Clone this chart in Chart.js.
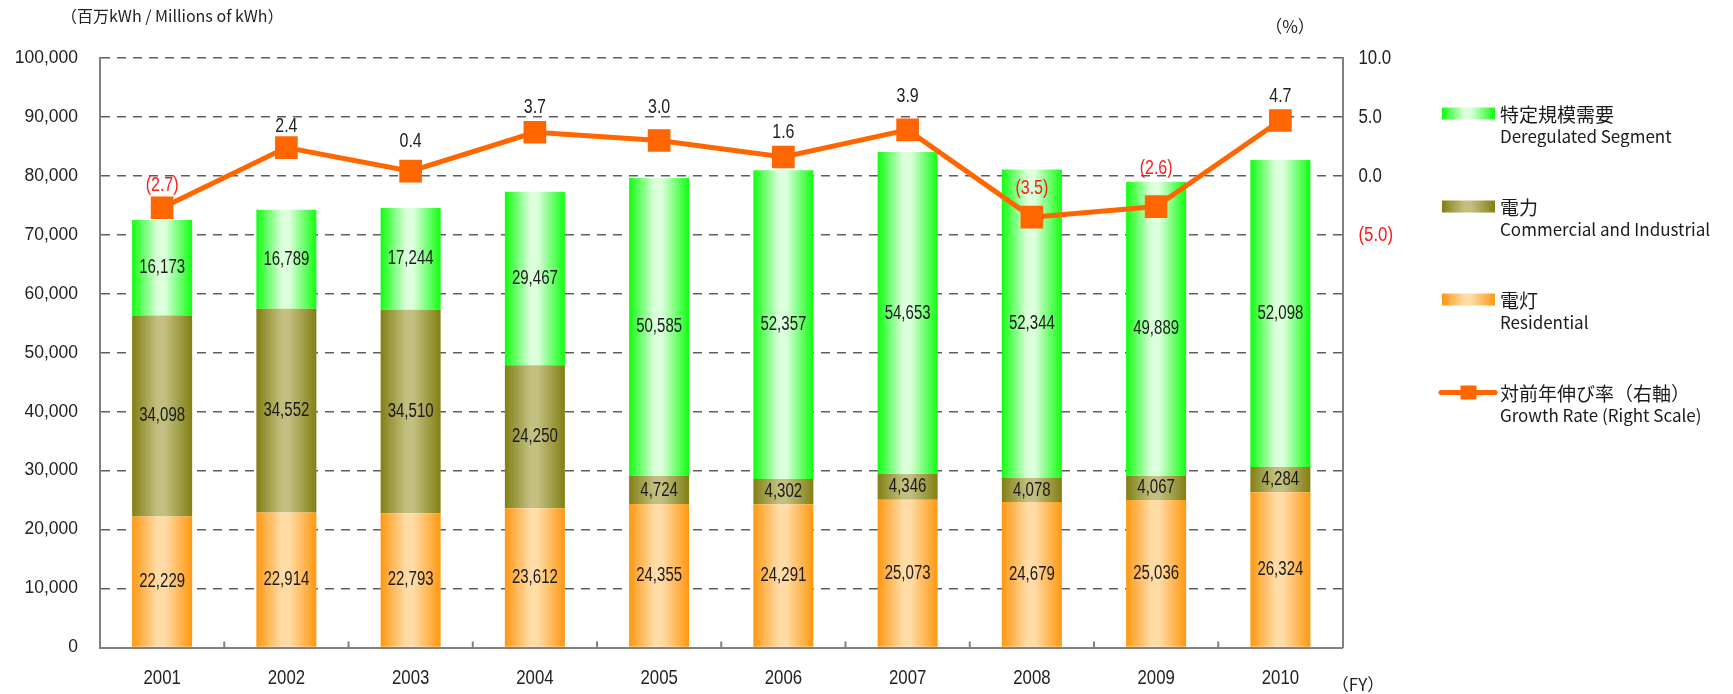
<!DOCTYPE html>
<html>
<head>
<meta charset="utf-8">
<script src="https://cdn.jsdelivr.net/npm/chart.js@4.4.0/dist/chart.umd.min.js"></script>
<style>
  html, body { margin: 0; padding: 0; background: #fff; }
  #wrap { width: 1733px; height: 694px; position: relative; }
</style>
</head>
<body>
<div id="wrap"><canvas id="myChart"></canvas></div>
<script>
  // data
  const years = ['2001', '2002', '2003', '2004', '2005', '2006', '2007', '2008', '2009', '2010'];
  const residential = [22229, 22914, 22793, 23612, 24355, 24291, 25073, 24679, 25036, 26324];
  const commercial = [34098, 34552, 34510, 24250, 4724, 4302, 4346, 4078, 4067, 4284];
  const deregulated = [16173, 16789, 17244, 29467, 50585, 52357, 54653, 52344, 49889, 52098];
  const growthRate = [-2.7, 2.4, 0.4, 3.7, 3.0, 1.6, 3.9, -3.5, -2.6, 4.7];

  const leftTicks = { min: 0, max: 100000, step: 10000 };
  const rightTicks = { min: -40, max: 10, step: 5, lowestShown: -5 };

  const nameDeregulated = ['特定規模需要', 'Deregulated Segment'];
  const nameCommercial = ['電力', 'Commercial and Industrial'];
  const nameResidential = ['電灯', 'Residential'];
  const nameGrowth = ['対前年伸び率（右軸）', 'Growth Rate (Right Scale)'];

  // how far each growth label sits above its marker (px)
  const growthLabelLift = [22, 21, 30, 25, 33, 25, 34, 29, 38, 24];

  const barPct = 0.483;
  const SANS = '"Liberation Sans", Arial, sans-serif';
  const JP = '"Noto Sans CJK JP", sans-serif';

  const greenStops = ['#10ff10', '#dcffdc'];
  const oliveStops = ['#827f14', '#c2bf80'];
  const orangeStops = ['#ff9810', '#ffdba6'];
  const lineColor = '#ff6600';
  const red = '#ff1a1a';

  function fillGradient(ctx, x0, x1, stops) {
    const g = ctx.createLinearGradient(x0, 0, x1, 0);
    g.addColorStop(0, stops[0]);
    g.addColorStop(0.42, stops[1]);
    g.addColorStop(0.55, stops[1]);
    g.addColorStop(1, stops[0]);
    return g;
  }

  function barFill(stops) {
    return (c) => {
      const chart = c.chart;
      const xs = chart.scales.x;
      if (!xs || !chart.chartArea || c.dataIndex === undefined) return stops[0];
      const cx = xs.getPixelForValue(c.dataIndex);
      const half = xs.width / years.length * barPct / 2;
      if (!isFinite(cx) || !isFinite(half) || half <= 0) return stops[0];
      return fillGradient(chart.ctx, cx - half, cx + half, stops);
    };
  }

  const fmt = (v) => v.toLocaleString('en-US');
  const fmtRate = (v) => v < 0 ? '(' + (-v).toFixed(1) + ')' : v.toFixed(1);

  // the numbers in the picture use a condensed face, squeeze a normal one
  function narrowText(ctx, text, x, y, squeeze) {
    ctx.save();
    ctx.translate(x, y);
    ctx.scale(squeeze, 1);
    ctx.fillText(text, 0, 0);
    ctx.restore();
  }

  // values inside the bars and above the line points
  const labelPlugin = {
    id: 'labels',
    afterDatasetsDraw(chart) {
      const ctx = chart.ctx;
      ctx.save();
      ctx.textAlign = 'center';
      ctx.textBaseline = 'middle';
      chart.data.datasets.forEach((ds, di) => {
        const meta = chart.getDatasetMeta(di);
        if (ds.type === 'line') {
          ctx.font = '20.5px ' + SANS;
          meta.data.forEach((pt, i) => {
            const v = ds.data[i];
            ctx.fillStyle = v < 0 ? red : '#222';
            narrowText(ctx, fmtRate(v), pt.x, pt.y - growthLabelLift[i], 0.78);
          });
        } else {
          ctx.font = '20px ' + SANS;
          ctx.fillStyle = '#1a1a1a';
          meta.data.forEach((bar, i) => {
            narrowText(ctx, fmt(ds.data[i]), bar.x, (bar.y + bar.base) / 2, 0.75);
          });
        }
      });
      ctx.restore();
    }
  };

  // category ticks, narrow tick labels, axis titles and the legend
  const decorPlugin = {
    id: 'decor',
    afterDraw(chart) {
      const ctx = chart.ctx;
      const xs = chart.scales.x;
      const y1 = chart.scales.y1;
      const area = chart.chartArea;
      ctx.save();
      ctx.strokeStyle = '#808080';
      ctx.lineWidth = 2;
      for (let i = 1; i < years.length; i++) {
        const x = (xs.getPixelForValue(i - 1) + xs.getPixelForValue(i)) / 2;
        ctx.beginPath();
        ctx.moveTo(x, area.bottom);
        ctx.lineTo(x, area.bottom - 6);
        ctx.stroke();
      }

      // x labels
      ctx.textBaseline = 'middle';
      ctx.textAlign = 'center';
      ctx.fillStyle = '#222';
      ctx.font = '21px ' + SANS;
      years.forEach((yr, i) => narrowText(ctx, yr, xs.getPixelForValue(i), area.bottom + 31, 0.8));

      // right axis labels
      ctx.textAlign = 'left';
      ctx.font = '20.5px ' + SANS;
      for (let v = rightTicks.max; v >= rightTicks.lowestShown; v -= rightTicks.step) {
        ctx.fillStyle = v < 0 ? red : '#222';
        narrowText(ctx, fmtRate(v), area.right + 16, y1.getPixelForValue(v), 0.82);
      }

      ctx.fillStyle = '#222';
      ctx.font = '16px ' + JP;
      ctx.textAlign = 'left';
      ctx.fillText('（百万kWh / Millions of kWh）', 61, 16);
      ctx.textAlign = 'center';
      ctx.font = '17px ' + JP;
      ctx.fillText('（%）', 1290, 27);
      ctx.fillText('（FY）', 1358, 685);

      const items = [
        { name: nameDeregulated, stops: greenStops },
        { name: nameCommercial, stops: oliveStops },
        { name: nameResidential, stops: orangeStops },
        { name: nameGrowth, line: true }
      ];
      const sx0 = 1442, sx1 = 1495, tx = 1500;
      items.forEach((it, k) => {
        const y = 113.5 + k * 93;
        if (it.line) {
          ctx.strokeStyle = lineColor;
          ctx.lineWidth = 5;
          ctx.lineCap = 'round';
          ctx.beginPath();
          ctx.moveTo(sx0 - 1, y);
          ctx.lineTo(sx1, y);
          ctx.stroke();
          ctx.fillStyle = lineColor;
          ctx.fillRect((sx0 + sx1) / 2 - 8, y - 7, 16, 14);
        } else {
          ctx.fillStyle = fillGradient(ctx, sx0, sx1, it.stops);
          ctx.fillRect(sx0, y - 6, sx1 - sx0, 12);
        }
        ctx.fillStyle = '#1a1a1a';
        ctx.textAlign = 'left';
        ctx.font = '19px ' + JP;
        ctx.fillText(it.name[0], tx, y + 1);
        ctx.font = '17px ' + JP;
        ctx.fillText(it.name[1], tx, y + 23);
      });
      ctx.restore();
    }
  };

  const ctx = document.getElementById('myChart').getContext('2d');
  const myChart = new Chart(ctx, {
    type: 'bar',
    data: {
      labels: years,
      datasets: [
        {
          type: 'line',
          label: nameGrowth[1],
          data: growthRate,
          yAxisID: 'y1',
          borderColor: lineColor,
          backgroundColor: lineColor,
          borderWidth: 5,
          pointStyle: 'rect',
          pointRadius: 12.5,
          pointBackgroundColor: lineColor,
          pointBorderColor: lineColor,
          order: 0
        },
        { label: nameResidential[1], data: residential, backgroundColor: barFill(orangeStops), order: 1 },
        { label: nameCommercial[1], data: commercial, backgroundColor: barFill(oliveStops), order: 1 },
        { label: nameDeregulated[1], data: deregulated, backgroundColor: barFill(greenStops), order: 1 }
      ]
    },
    options: {
      responsive: true,
      maintainAspectRatio: false,
      animation: false,
      layout: { padding: { top: 58, left: 0, right: 0, bottom: 0 } },
      datasets: { bar: { categoryPercentage: 1, barPercentage: barPct } },
      plugins: {
        legend: { display: false },
        tooltip: { enabled: false }
      },
      scales: {
        x: {
          stacked: true,
          offset: true,
          afterFit: (s) => { s.height = 46.5; },
          grid: { display: false, drawTicks: false },
          border: { display: true, color: '#808080', width: 2 },
          ticks: { display: false }
        },
        y: {
          stacked: true,
          min: leftTicks.min,
          max: leftTicks.max,
          afterFit: (s) => { s.width = 100; },
          grid: { color: '#5e5e5e', lineWidth: 1.4, drawTicks: false },
          border: { color: '#808080', width: 2, dash: [9, 7] },
          ticks: {
            stepSize: leftTicks.step,
            color: '#222',
            padding: 22,
            font: { family: SANS, size: 17.5 },
            callback: (v) => fmt(v)
          }
        },
        y1: {
          position: 'right',
          min: rightTicks.min,
          max: rightTicks.max,
          afterFit: (s) => { s.width = 390.5; },
          grid: { display: false, drawTicks: false },
          border: { color: '#808080', width: 2 },
          ticks: { display: false, stepSize: rightTicks.step }
        }
      }
    },
    plugins: [labelPlugin, decorPlugin]
  });
</script>
</body>
</html>
